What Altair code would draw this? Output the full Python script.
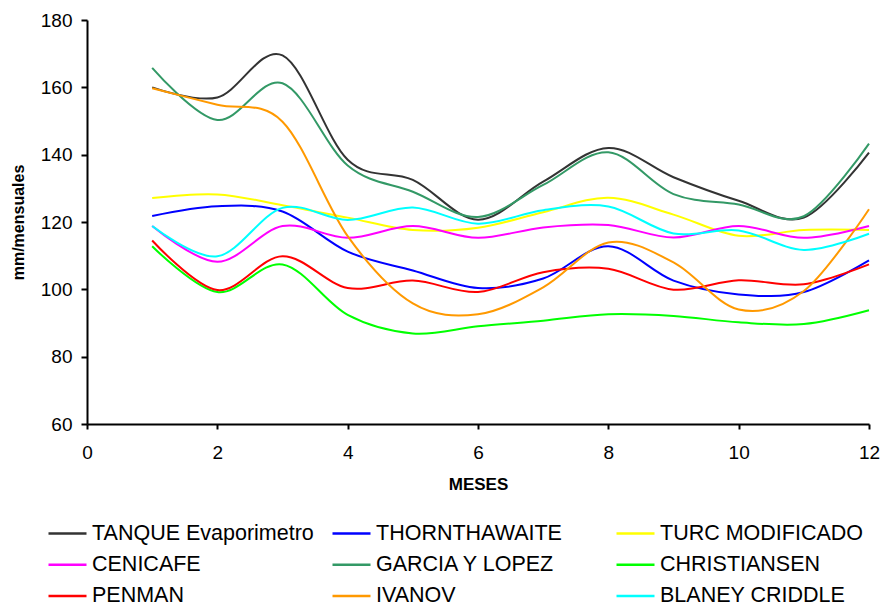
import altair as alt
import pandas as pd

months = [1, 2, 3, 4, 5, 6, 7, 8, 9, 10, 11, 12]

series_names = [
    "TANQUE Evaporimetro", "THORNTHAWAITE", "TURC MODIFICADO",
    "CENICAFE", "GARCIA Y LOPEZ", "CHRISTIANSEN",
    "PENMAN", "IVANOV", "BLANEY CRIDDLE",
]
series_colors = [
    "#333333", "#0000FF", "#FFFF00",
    "#FF00FF", "#339966", "#00FF00",
    "#FF0000", "#FF9900", "#00FFFF",
]

tanque = [160, 157, 169.5, 138.5, 132.5, 120.7, 132, 142, 133.3, 126.3, 121.3, 140.6]
thornthawaite = [121.8, 124.7, 123.1, 111.2, 105.6, 100.4, 103.2, 112.8, 102.6, 98.5, 99.2, 108.6]
turc = [127.1, 128.2, 125.0, 121.3, 117.6, 118.3, 122.9, 127.2, 122.2, 115.9, 117.6, 117.6]
cenicafe = [118.8, 108.2, 118.8, 115.3, 118.8, 115.3, 118.4, 119.1, 115.4, 118.8, 115.3, 118.8]
garcia = [165.8, 150.3, 161.2, 136.8, 129.0, 121.5, 131.0, 140.7, 128.3, 125.2, 121.7, 143.3]
christiansen = [112.8, 99.2, 107.4, 92.4, 86.9, 89.0, 90.7, 92.6, 92.1, 90.2, 89.7, 93.8]
penman = [114.5, 99.8, 109.8, 100.4, 102.6, 99.2, 105.1, 106.1, 99.9, 102.7, 101.5, 107.4]
ivanov = [159.7, 154.8, 149.8, 115.8, 95.8, 92.6, 100.6, 113.9, 108.0, 94.0, 99.5, 123.8]
blaney = [118.8, 109.8, 124.2, 120.6, 124.3, 119.5, 123.5, 124.6, 116.6, 117.5, 111.7, 116.5]

values = [tanque, thornthawaite, turc, cenicafe, garcia, christiansen, penman, ivanov, blaney]

rows = []
for name, vals in zip(series_names, values):
    for m, v in zip(months, vals):
        rows.append({"mes": m, "valor": v, "serie": name})
df = pd.DataFrame(rows)

FONT = "Liberation Sans"

chart = alt.Chart(df).mark_line(interpolate="cardinal", strokeWidth=2).encode(
    x=alt.X("mes:Q", scale=alt.Scale(domain=[0, 12], nice=False, zero=False),
            axis=alt.Axis(title="MESES", values=[0, 2, 4, 6, 8, 10, 12], grid=False,
                          tickSize=5, labelPadding=14, titlePadding=14, labelFlush=False,
                          labelFontSize=19, titleFontSize=17)),
    y=alt.Y("valor:Q", scale=alt.Scale(domain=[60, 180], nice=False, zero=False),
            axis=alt.Axis(title="mm/mensuales", values=[60, 80, 100, 120, 140, 160, 180], grid=False,
                          tickSize=6, labelPadding=9, titlePadding=14,
                          labelFontSize=19, titleFontSize=16)),
    color=alt.Color("serie:N",
                    scale=alt.Scale(domain=series_names, range=series_colors),
                    sort=series_names,
                    legend=alt.Legend(title=None, orient="none", legendX=-40, legendY=493,
                                      columns=3, symbolType="stroke", symbolSize=1444,
                                      symbolStrokeWidth=2.5, labelFontSize=21.5, labelFont=FONT,
                                      labelColor="black", labelOffset=4, columnPadding=13,
                                      rowPadding=0.3, gridAlign="all", labelLimit=0,
                                      direction="horizontal")),
    order=alt.Order("mes:Q"),
).properties(
    width=782, height=404,
    autosize=alt.AutoSizeParams(type="none"),
    padding={"left": 79, "top": 12, "right": 11, "bottom": 183},
).configure_view(stroke=None).configure_axis(
    labelFont=FONT, titleFont=FONT, labelColor="black", titleColor="black",
    domainColor="black", tickColor="black", domainWidth=2, tickWidth=2,
    titleFontWeight="bold",
)

chart.save("out.html", embed_options={"renderer": "svg", "actions": False})
